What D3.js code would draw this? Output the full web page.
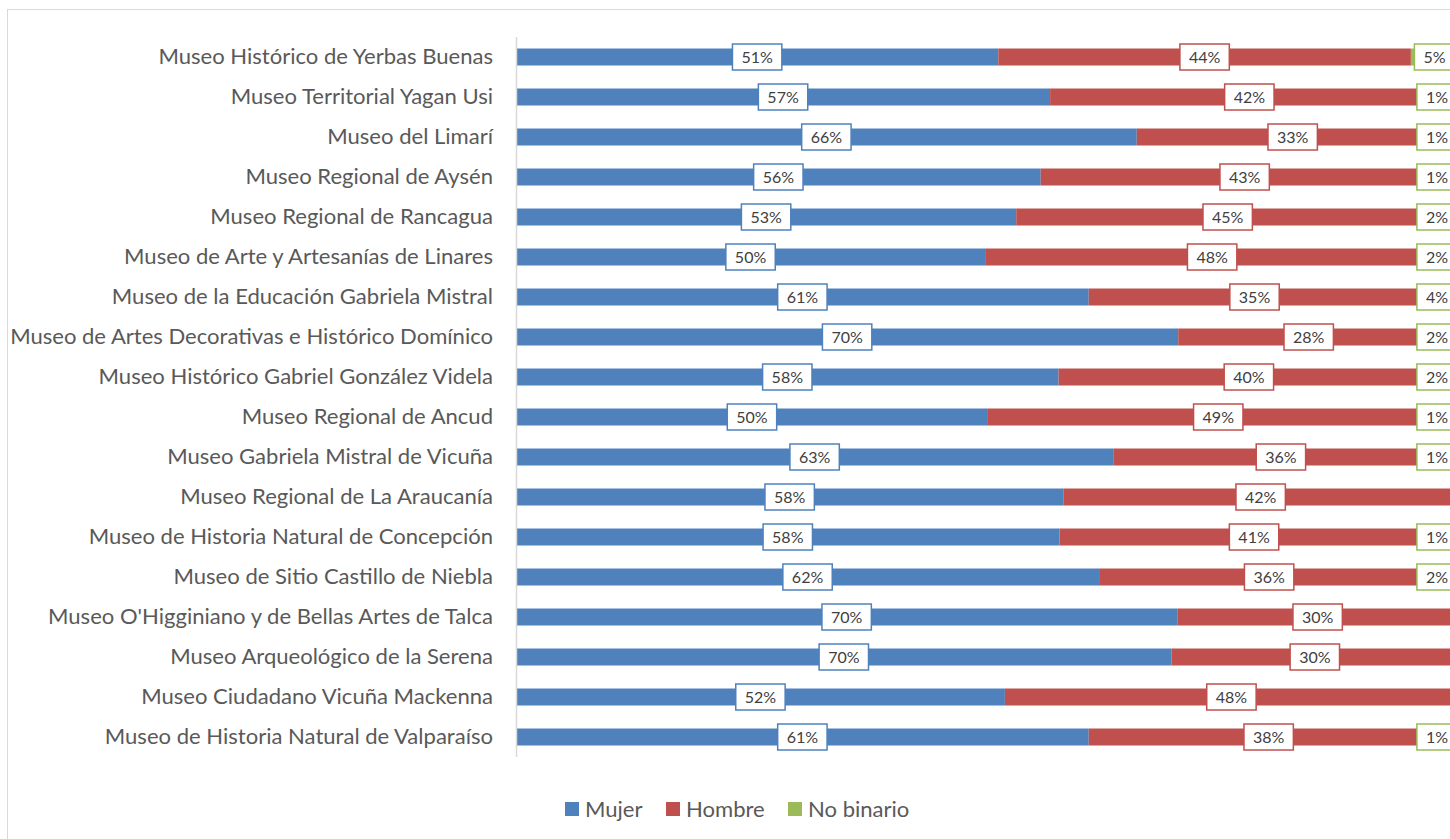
<!DOCTYPE html>
<html>
<head>
<meta charset="utf-8">
<script src="https://cdn.jsdelivr.net/npm/d3@7"></script>
<style>
  html, body { margin: 0; padding: 0; overflow: hidden; background: #fff; }
  svg { display: block; }
</style>
</head>
<body>
<script>
const categories = [
    'Museo Histórico de Yerbas Buenas',
    'Museo Territorial Yagan Usi',
    'Museo del Limarí',
    'Museo Regional de Aysén',
    'Museo Regional de Rancagua',
    'Museo de Arte y Artesanías de Linares',
    'Museo de la Educación Gabriela Mistral',
    'Museo de Artes Decorativas e Histórico Domínico',
    'Museo Histórico Gabriel González Videla',
    'Museo Regional de Ancud',
    'Museo Gabriela Mistral de Vicuña',
    'Museo Regional de La Araucanía',
    'Museo de Historia Natural de Concepción',
    'Museo de Sitio Castillo de Niebla',
    "Museo O'Higginiano y de Bellas Artes de Talca",
    'Museo Arqueológico de la Serena',
    'Museo Ciudadano Vicuña Mackenna',
    'Museo de Historia Natural de Valparaíso',
];

// percentages
const mujer     = [51.2, 56.7, 65.9, 55.7, 53.1, 49.8, 60.8, 70.3, 57.6, 50.1, 63.4, 58.1, 57.7, 61.9, 70.2, 69.6, 51.9, 60.8];
const hombre    = [43.8, 42.3, 33.1, 43.3, 44.9, 48.2, 35.2, 27.7, 40.4, 48.9, 35.6, 41.9, 41.3, 36.1, 29.8, 30.4, 48.1, 38.2];
const noBinario = [5, 1, 1, 1, 2, 2, 4, 2, 2, 1, 1, 0, 1, 2, 0, 0, 0, 1];

const seriesNames = ['Mujer', 'Hombre', 'No binario'];
const colors = ['#4f81bd', '#c0504d', '#9bbb59'];

const config = {
    width: 1470,
    height: 839,
    left: 516,
    right: 1458,
    top: 37,
    bottom: 757,
    textColor: '#595959',
    font: 'Lato, "Open Sans", sans-serif',
};

const rows = categories.map((c, i) => ({
    name: c,
    values: [mujer[i], hombre[i], noBinario[i]],
}));

const stack = d3.stack()
    .keys([0, 1, 2])
    .value((d, k) => d.values[k]);
const series = stack(rows);

const x = d3.scaleLinear()
    .domain([0, 100])
    .range([config.left, config.right]);

const y = d3.scaleBand()
    .domain(categories)
    .range([config.top, config.bottom])
    .paddingInner(0.575)
    .paddingOuter(0.2875);

const svg = d3.select('body')
    .append('svg')
    .attr('width', config.width)
    .attr('height', config.height)
    .style('font-family', config.font);

// chart frame
svg.append('rect')
    .attr('x', 7.5)
    .attr('y', 9.5)
    .attr('width', 1500)
    .attr('height', 900)
    .attr('fill', 'none')
    .attr('stroke', '#d9d9d9');

// bars
const layer = svg.selectAll('g.layer')
    .data(series).enter()
    .append('g')
    .attr('class', 'layer')
    .attr('fill', d => colors[d.key]);

layer.selectAll('rect')
    .data(d => d).enter()
    .append('rect')
        .attr('x', d => x(d[0]))
        .attr('y', d => y(d.data.name))
        .attr('width', d => x(d[1]) - x(d[0]))
        .attr('height', y.bandwidth());

// vertical axis
const yAxis = d3.axisLeft(y).tickSize(0).tickPadding(23);
const axisG = svg.append('g')
    .attr('transform', `translate(${config.left},0)`)
    .call(yAxis);
axisG.select('.domain').remove();
axisG.append('line')
    .attr('x1', 0.5).attr('x2', 0.5)
    .attr('y1', config.top).attr('y2', config.bottom)
    .attr('stroke', '#d9d9d9')
    .attr('stroke-width', 1.5);

const tickText = axisG.selectAll('.tick text')
    .attr('fill', config.textColor)
    .style('font-family', config.font)
    .style('font-size', '20px');

// fit the longest label to the width it takes in the picture
let longest = 0;
tickText.each(function () { longest = Math.max(longest, this.getComputedTextLength()); });
const fontSize = 20 * 483 / longest;
tickText.style('font-size', fontSize + 'px');

// data labels
const labels = [];
series.forEach(s => {
    s.forEach(d => {
        const v = d[1] - d[0];
        if (v <= 0) return;
        labels.push({ key: s.key, value: v, x0: d[0], x1: d[1], name: d.data.name });
    });
});

const labelG = svg.selectAll('g.label')
    .data(labels).enter()
    .append('g')
    .attr('class', 'label');

labelG.append('text')
    .attr('text-anchor', 'middle')
    .attr('dy', '0.36em')
    .attr('fill', '#404040')
    .style('font-size', '16px')
    .text(d => Math.round(d.value) + '%');

labelG.each(function (d) {
    const g = d3.select(this);
    const w = Math.max(g.select('text').node().getComputedTextLength() + 18, 38);
    const h = 26;
    let cx = (x(d.x0) + x(d.x1)) / 2;
    cx = Math.min(cx, config.right - 1 - w / 2);
    const cy = y(d.name) + y.bandwidth() / 2;
    g.attr('transform', `translate(${cx},${cy})`);
    g.insert('rect', 'text')
        .attr('x', -w / 2)
        .attr('y', -h / 2)
        .attr('width', w)
        .attr('height', h)
        .attr('fill', '#fff')
        .attr('stroke', colors[d.key])
        .attr('stroke-width', 1.5);
});

// legend
const legend = svg.append('g')
    .attr('transform', 'translate(565,809)');

const legendX = [0, 101, 223];
const item = legend.selectAll('g')
    .data(seriesNames).enter()
    .append('g')
    .attr('transform', (d, i) => `translate(${legendX[i]},0)`);

item.append('rect')
    .attr('x', 0)
    .attr('y', -7)
    .attr('width', 14)
    .attr('height', 14)
    .attr('fill', (d, i) => colors[i]);

item.append('text')
    .attr('x', 20)
    .attr('dy', '0.35em')
    .attr('fill', config.textColor)
    .style('font-size', fontSize + 'px')
    .text(d => d);
</script>
</body>
</html>
